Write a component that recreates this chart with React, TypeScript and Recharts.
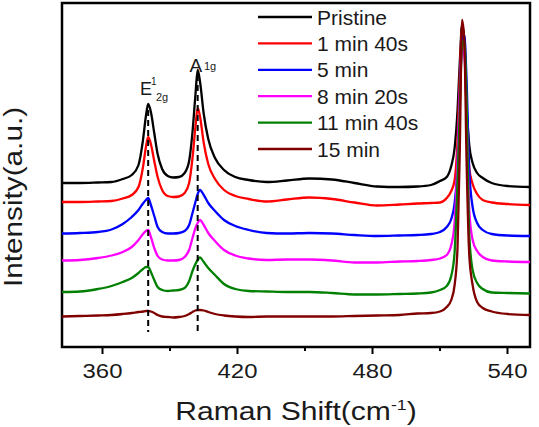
import React from 'react';
import { LineChart, Line, XAxis, YAxis, ReferenceLine, ReferenceArea } from 'recharts';

// Raman shift (cm-1) sample positions
const shift = [
  342, 350, 358, 364, 369, 373, 376, 378, 379.3, 380.3, 381.5, 383, 384.5, 386.5, 389, 391.5, 394, 396.5,
  398.5, 400, 401.3, 402.3, 403.3, 405, 407, 410, 414, 419, 425, 433, 442, 452, 462, 472, 482, 492, 500,
  506, 510, 513, 515, 516.5, 517.8, 518.8, 519.8, 520.8, 521.8, 523, 524.5, 526.5, 529, 533, 540, 550,
];

// stacked intensities (a.u.), offsets included
const pristine = [
  164, 164, 164.5, 165, 168, 172, 182, 207, 231, 243, 235, 214, 193, 178, 171, 169.5, 170, 174,
  186, 215, 252, 277, 266, 233, 208, 189, 177, 170, 167, 165, 166.5, 168.5, 167.5, 164, 160.5, 160, 160.5,
  162, 166, 170, 181, 199, 237, 285, 322, 307, 242, 202, 184, 174, 169, 164, 161, 160,
];
const min1s40 = [
  145, 145, 145.5, 146, 148.5, 152, 160, 180, 200, 210, 203, 186, 170, 157, 151, 150, 150.5, 154,
  164, 189, 220, 239, 231, 204, 183, 168, 157, 151, 148, 145.5, 147.5, 149.5, 148, 144.5, 141.5, 142.5, 143.5,
  144, 144.5, 149, 156, 167, 207, 272, 319, 307, 237, 179, 163, 153, 147, 144.5, 143, 142,
];
const min5 = [
  113.5, 114, 115, 117.5, 123, 130, 137, 143.5, 147, 149, 142, 131, 120, 115, 113.5, 113.5, 114, 116,
  122, 134, 145, 153, 157, 152, 144, 136, 127, 121, 117, 114, 113.5, 114, 113.5, 112, 111, 111.5, 112,
  113, 115, 120, 128, 144, 182, 252, 307, 312, 267, 177, 140, 124, 117, 113, 111.5, 111,
];
const min8s20 = [
  86.5, 87, 89, 91.5, 95, 100, 107, 113, 116, 117, 110, 99, 91, 87.5, 86.5, 86.5, 87, 90,
  97, 109, 119, 124, 127, 122, 114, 106, 97, 91.5, 88.5, 87, 87.5, 87.5, 86.5, 84.5, 84.5, 85.5, 86,
  87, 88.5, 92, 102, 125, 187, 252, 297, 292, 237, 137, 107, 96, 90, 86.5, 85.5, 85,
];
const min11s40 = [
  55, 55.5, 58, 61, 65, 69, 74, 78, 80, 80, 75, 67, 60, 57, 56, 56.5, 57, 59,
  66, 76, 83, 87, 89.5, 85, 79, 72, 63, 58, 56, 55.5, 55, 55, 54, 52.5, 52.5, 53, 53.5,
  54.5, 57, 61, 71, 95, 167, 237, 302, 307, 247, 112, 77, 64, 58, 54.5, 54, 53.5,
];
const min15 = [
  30.5, 31, 31.5, 32, 33, 34, 35, 35.5, 36, 36, 35.5, 34, 32, 30.5, 30, 29.5, 30, 31,
  33, 35, 36.5, 37, 37, 36.5, 35, 33, 31.5, 30.5, 30, 30.5, 30.5, 30.5, 30.5, 31, 31.5, 32, 33.5,
  34, 35.5, 40, 47, 62, 100, 197, 327, 307, 187, 92, 62, 45, 39, 35.5, 33, 32,
];

const seriesNames = ['Pristine', '1 min 40s', '5 min', '8 min 20s', '11 min 40s', '15 min'];
const seriesColors = ['#000000', '#ff0000', '#0000ff', '#ff00ff', '#008000', '#800000'];
const seriesValues = [pristine, min1s40, min5, min8s20, min11s40, min15];

const xTicks = [360, 390, 420, 450, 480, 510, 540];
const xLabels = [360, 420, 480, 540];

// dashed guides at E12g and A1g
const peakShifts = [380.3, 402.3];
const peakGuideTop = [237, 272];
const peakGuideBottom = 15;

const FONT = '"Liberation Sans", Arial, sans-serif';

const series = seriesNames.map((name, i) => ({
  key: 's' + i,
  name,
  color: seriesColors[i],
  values: seriesValues[i],
}));

const data = shift.map((x, i) => {
  const row: Record<string, number> = { x };
  series.forEach(s => {
    row[s.key] = s.values[i];
  });
  return row;
});

const AxisTick = (props: any) => {
  const { x, y, payload } = props;
  const major = xLabels.includes(payload.value);
  return (
    <g>
      <line x1={x} x2={x} y1={y} y2={y + (major ? 7 : 4)} stroke="#000" strokeWidth={2} />
      {major && (
        <text
          transform={`translate(${x},${y + 31}) scale(1.14,1)`}
          textAnchor="middle"
          fontSize={21}
          fontFamily={FONT}
          fill="#1a1a1a"
        >
          {payload.value}
        </text>
      )}
    </g>
  );
};

const App: React.FC = () => {
  return (
    <div style={{ position: 'absolute', left: 0, top: 0, width: 539, height: 427, background: '#fff' }}>
      <LineChart
        width={539}
        height={427}
        data={data}
        margin={{ top: 3, right: 9, bottom: 0, left: 62 }}
      >
        <XAxis
          dataKey="x"
          type="number"
          domain={[342, 550]}
          ticks={xTicks}
          tick={<AxisTick />}
          tickLine={false}
          tickSize={0}
          tickMargin={0}
          height={80}
          axisLine={{ stroke: '#000', strokeWidth: 2 }}
          interval={0}
        />
        <YAxis hide domain={[0, 344]} />
        {series.map(s => (
          <Line
            key={s.key}
            dataKey={s.key}
            name={s.name}
            type="monotone"
            stroke={s.color}
            strokeWidth={2.3}
            dot={false}
            isAnimationActive={false}
          />
        ))}
        {peakShifts.map((p, i) => (
          <ReferenceLine
            key={'g' + i}
            segment={[{ x: p, y: peakGuideTop[i] }, { x: p, y: peakGuideBottom }]}
            stroke="#000"
            strokeWidth={2}
            strokeDasharray="6 4"
          />
        ))}
        <ReferenceArea
          x1={342}
          x2={550}
          y1={0}
          y2={344}
          fill="none"
          fillOpacity={0}
          stroke="#000"
          strokeWidth={2.5}
          ifOverflow="visible"
        />
      </LineChart>
      <svg
        width={539}
        height={427}
        style={{ position: 'absolute', left: 0, top: 0, pointerEvents: 'none' }}
        fontFamily={FONT}
      >
        {/* legend */}
        {series.map((s, i) => (
          <g key={s.key}>
            <line x1={258} x2={312} y1={17 + i * 26.4} y2={17 + i * 26.4} stroke={s.color} strokeWidth={2.3} />
            <text x={317} y={24.5 + i * 26.4} fontSize={21} fill="#1a1a1a">
              {s.name}
            </text>
          </g>
        ))}
        {/* peak labels */}
        <text x={140} y={95} fontSize={18} fill="#1a1a1a">E</text>
        <text x={151} y={85} fontSize={10} fill="#1a1a1a">1</text>
        <text x={156} y={101} fontSize={11} fill="#1a1a1a">2g</text>
        <text x={189.5} y={72} fontSize={19} fill="#1a1a1a">A</text>
        <text x={204} y={70} fontSize={11} fill="#1a1a1a">1g</text>
        {/* axis titles */}
        <g transform="translate(296,420) scale(1.18,1)">
          <text x={0} y={0} textAnchor="middle" fontSize={25.5} fill="#1a1a1a">
            Raman Shift(cm<tspan fontSize={15} dy={-10}>-1</tspan><tspan dy={10}>)</tspan>
          </text>
        </g>
        <g transform="translate(22,197) rotate(-90) scale(1.19,1)">
          <text x={0} y={0} textAnchor="middle" fontSize={25} fill="#1a1a1a">
            Intensity(a.u.)
          </text>
        </g>
      </svg>
    </div>
  );
};

export default App;
